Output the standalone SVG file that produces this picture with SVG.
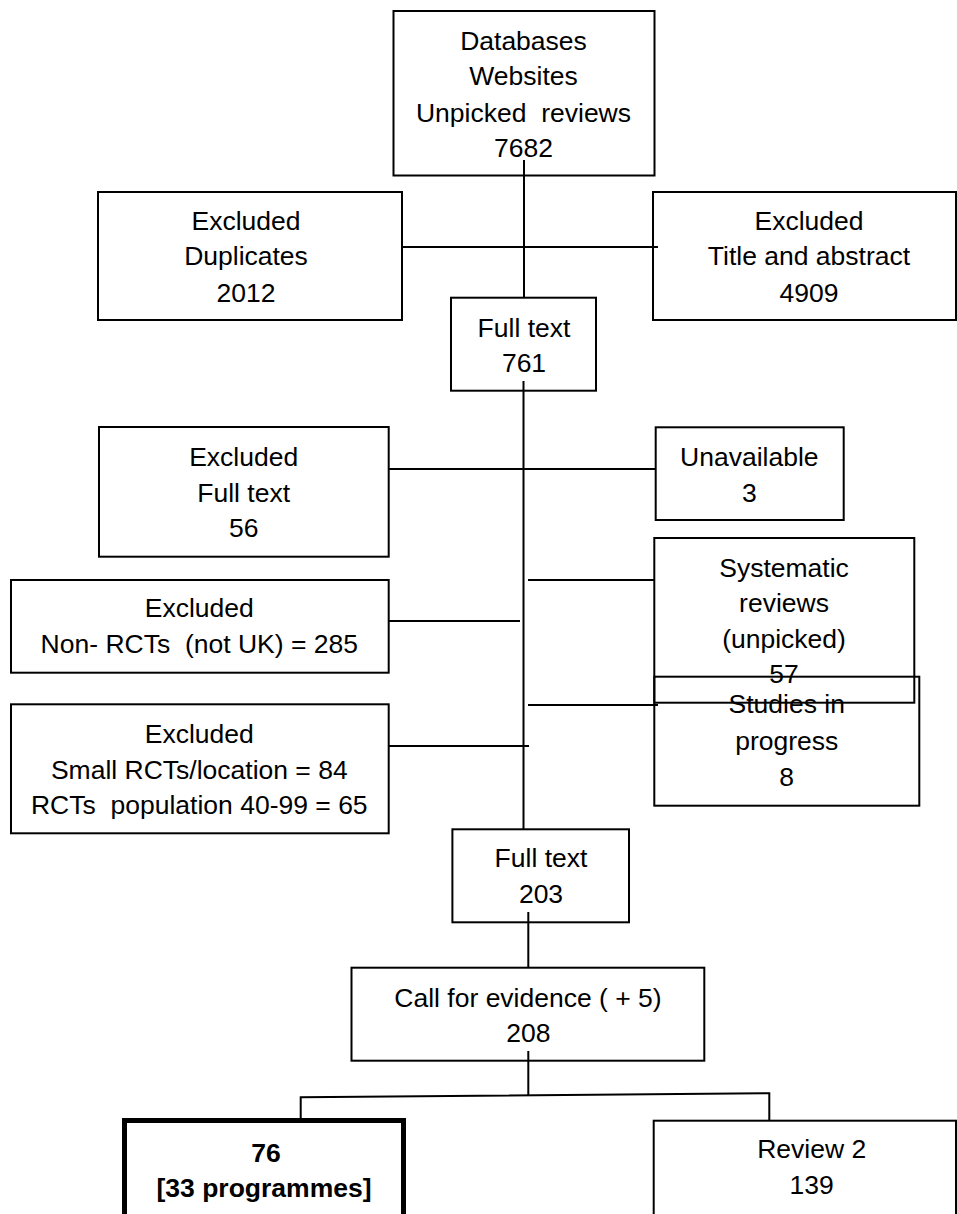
<svg xmlns="http://www.w3.org/2000/svg" width="957" height="1214" viewBox="0 0 957 1214">
<style>
  .box{fill:none;stroke:#000;stroke-width:2}
  .thick{fill:none;stroke:#000;stroke-width:5}
  .ln{fill:none;stroke:#000;stroke-width:2}
  text{font-family:"Liberation Sans",Arial,sans-serif;font-size:26.5px;fill:#000;text-anchor:middle;white-space:pre}
  .b{font-weight:bold}
</style>
<rect x="0" y="0" width="957" height="1214" fill="#fff"/>
<g id="connectors">
  <line class="ln" x1="524" y1="160" x2="524" y2="298"/>
  <line class="ln" x1="402" y1="247" x2="658" y2="247"/>
  <line class="ln" x1="523.5" y1="381" x2="523.5" y2="829"/>
  <line class="ln" x1="389" y1="469" x2="656" y2="469"/>
  <line class="ln" x1="528" y1="580" x2="654" y2="580"/>
  <line class="ln" x1="389" y1="621" x2="520" y2="621"/>
  <line class="ln" x1="528" y1="705" x2="658" y2="705"/>
  <line class="ln" x1="389" y1="746" x2="529" y2="746"/>
  <line class="ln" x1="528.3" y1="912" x2="528.3" y2="968"/>
  <line class="ln" x1="528.3" y1="1051" x2="528.3" y2="1095"/>
  <polyline class="ln" points="300.7,1118 300.7,1097.3 769.3,1093.3 769.3,1121"/>
</g>
<g id="n-sources">
  <rect class="box" x="393.5" y="11" width="261" height="164.5"/>
  <text x="523.5" y="50">Databases</text>
  <text x="523.5" y="85">Websites</text>
  <text x="523.5" y="121.7" xml:space="preserve">Unpicked  reviews</text>
  <text x="523.5" y="156.7">7682</text>
</g>
<g id="n-duplicates">
  <rect class="box" x="98" y="192" width="304" height="128"/>
  <text x="246" y="230">Excluded</text>
  <text x="246" y="265">Duplicates</text>
  <text x="246" y="301.7">2012</text>
</g>
<g id="n-title-abstract">
  <rect class="box" x="653" y="192" width="303" height="128"/>
  <text x="809" y="230">Excluded</text>
  <text x="809" y="265">Title and abstract</text>
  <text x="809" y="301.7">4909</text>
</g>
<g id="n-fulltext-761">
  <rect class="box" x="451" y="297.7" width="145" height="93"/>
  <text x="524" y="336.7">Full text</text>
  <text x="524" y="372">761</text>
</g>
<g id="n-excluded-fulltext">
  <rect class="box" x="99" y="427" width="289.7" height="129.7"/>
  <text x="243.7" y="465.7">Excluded</text>
  <text x="243.7" y="501.7">Full text</text>
  <text x="243.7" y="536.7">56</text>
</g>
<g id="n-unavailable">
  <rect class="box" x="655.7" y="427.3" width="188" height="92.7"/>
  <text x="749.3" y="465.7">Unavailable</text>
  <text x="749.3" y="501.7">3</text>
</g>
<g id="n-nonrct">
  <rect class="box" x="11" y="580" width="377.7" height="92.7"/>
  <text x="199.3" y="617">Excluded</text>
  <text x="199.3" y="653.3" xml:space="preserve">Non- RCTs  (not UK) = 285</text>
</g>
<g id="n-systematic">
  <rect class="box" x="654.3" y="538" width="260" height="164.7"/>
  <text x="784" y="576.7">Systematic</text>
  <text x="784" y="611.7">reviews</text>
  <text x="784" y="647.7">(unpicked)</text>
  <text x="784" y="683.3">57</text>
</g>
<g id="n-studies">
  <rect class="box" x="654.3" y="676.7" width="265" height="129"/>
  <text x="786.7" y="713">Studies in</text>
  <text x="786.7" y="750">progress</text>
  <text x="786.7" y="786">8</text>
</g>
<g id="n-small-rct">
  <rect class="box" x="11" y="704.3" width="377.7" height="129"/>
  <text x="199.3" y="742.7">Excluded</text>
  <text x="199.3" y="779">Small RCTs/location = 84</text>
  <text x="199.3" y="814.3" xml:space="preserve">RCTs  population 40-99 = 65</text>
</g>
<g id="n-fulltext-203">
  <rect class="box" x="452.4" y="829.3" width="176.6" height="93"/>
  <text x="541" y="866.7">Full text</text>
  <text x="541" y="902.7">203</text>
</g>
<g id="n-call">
  <rect class="box" x="351.5" y="967.7" width="352.8" height="93"/>
  <text x="528" y="1006.7">Call for evidence ( + 5)</text>
  <text x="528.3" y="1041.7">208</text>
</g>
<g id="n-76">
  <rect class="thick" x="124.5" y="1120.5" width="279" height="120"/>
  <text class="b" x="266" y="1161.7">76</text>
  <text class="b" x="264" y="1196.7">[33 programmes]</text>
</g>
<g id="n-review2">
  <rect class="box" x="653.7" y="1120.7" width="302.3" height="120"/>
  <text x="811.7" y="1158.3">Review 2</text>
  <text x="811.7" y="1194">139</text>
</g>
</svg>
